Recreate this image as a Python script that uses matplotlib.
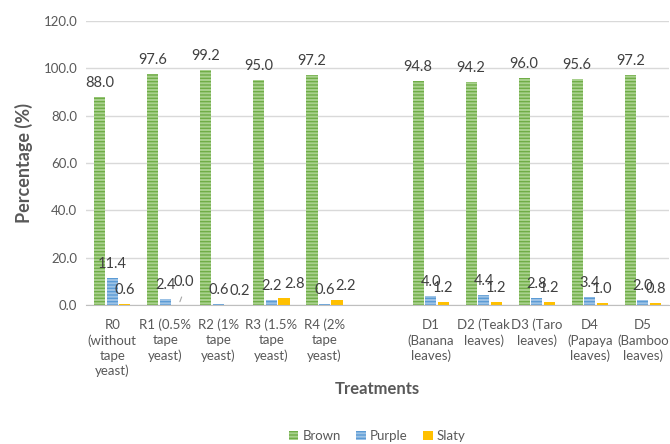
import numpy as np
import matplotlib
matplotlib.use("Agg")
import matplotlib.pyplot as plt

plt.rcParams['font.family'] = ['Lato', 'DejaVu Sans']
plt.rcParams['hatch.linewidth'] = 1.0

# Treatment groups (an empty slot separates the two groups)
categories = [
    "R0\n(without\ntape\nyeast)",
    "R1 (0.5%\ntape\nyeast)",
    "R2 (1%\ntape\nyeast)",
    "R3 (1.5%\ntape\nyeast)",
    "R4 (2%\ntape\nyeast)",
    "",
    "D1\n(Banana\nleaves)",
    "D2 (Teak\nleaves)",
    "D3 (Taro\nleaves)",
    "D4\n(Papaya\nleaves)",
    "D5\n(Bamboo\nleaves)",
]
brown = [88.0, 97.6, 99.2, 95.0, 97.2, np.nan, 94.8, 94.2, 96.0, 95.6, 97.2]
purple = [11.4, 2.4, 0.6, 2.2, 0.6, np.nan, 4.0, 4.4, 2.8, 3.4, 2.0]
slaty = [0.6, 0.0, 0.2, 2.8, 2.2, np.nan, 1.2, 1.2, 1.2, 1.0, 0.8]
series_names = ["Brown", "Purple", "Slaty"]
yticks = [0, 20, 40, 60, 80, 100, 120]

face = ["#a9d18e", "#9dc3e6", "#ffc000"]
stripe = ["#70ad47", "#5b9bd5", "#ffc000"]
text_grey = "#595959"
label_grey = "#404040"

fig = plt.figure(figsize=(6.70, 4.44), dpi=100)
ax = fig.add_axes([0.128, 0.313, 0.871, 0.640])

x = np.arange(len(categories))
width = 0.21
step = 0.236
series = [brown, purple, slaty]

# label nudges in pixels (dx, dy) for crowded small values
nudge = {(2, 1): (6, 9), (2, 2): (9, 0), (2, 3): (11, 0), (2, 4): (9, 0)}

for i, (vals, name) in enumerate(zip(series, series_names)):
    pos = x + (i - 1) * step
    bars = ax.bar(pos, vals, width, color=face[i], edgecolor=stripe[i],
                  linewidth=0, hatch="-----" if i < 2 else None,
                  label=name, zorder=3)
    for j, (p, v) in enumerate(zip(pos, vals)):
        if np.isnan(v):
            continue
        dx, dy = nudge.get((i, j), (0, 0))
        ax.annotate(f"{v:.1f}", (p, v), xytext=(dx * 0.72, 5 + dy * 0.72),
                    textcoords="offset points", ha="center", va="bottom",
                    fontsize=10.5, color=label_grey, zorder=5)
        if (i, j) in nudge and dy > 0:
            ax.annotate("", (p + 0.02, v + 0.3),
                        xytext=(p + 0.09, v + 4.5),
                        arrowprops=dict(arrowstyle="-", color="#a6a6a6", lw=0.8))

ax.set_ylim(0, 120)
ax.set_xlim(-0.5, 10.5)
ax.set_yticks(yticks)
ax.set_yticklabels([f"{t:.1f}" for t in yticks], color=text_grey, fontsize=9.5)
ax.set_xticks(x)
ax.set_xticklabels(categories, color=text_grey, fontsize=9.5, linespacing=1.3)
ax.tick_params(axis="y", length=0, pad=6)
ax.tick_params(axis="x", length=0, pad=10)
ax.grid(axis="y", color="#d9d9d9", linewidth=1, zorder=0)
for s in ["top", "right", "left"]:
    ax.spines[s].set_visible(False)
ax.spines["bottom"].set_color("#bfbfbf")
ax.spines["bottom"].set_zorder(4)

ax.set_ylabel("Percentage (%)", fontsize=13, fontweight="bold", color=text_grey, labelpad=8)
fig.text(0.563, 0.125, "Treatments", fontsize=12, fontweight="bold",
         color=text_grey, ha="center", va="center")

leg = fig.legend(loc="center", bbox_to_anchor=(0.563, 0.018), ncol=3, frameon=False,
                 fontsize=9.5, handlelength=0.7, handleheight=0.7, columnspacing=1.2,
                 handletextpad=0.3)
for t in leg.get_texts():
    t.set_color(text_grey)

fig.savefig("out.png", dpi=100)
